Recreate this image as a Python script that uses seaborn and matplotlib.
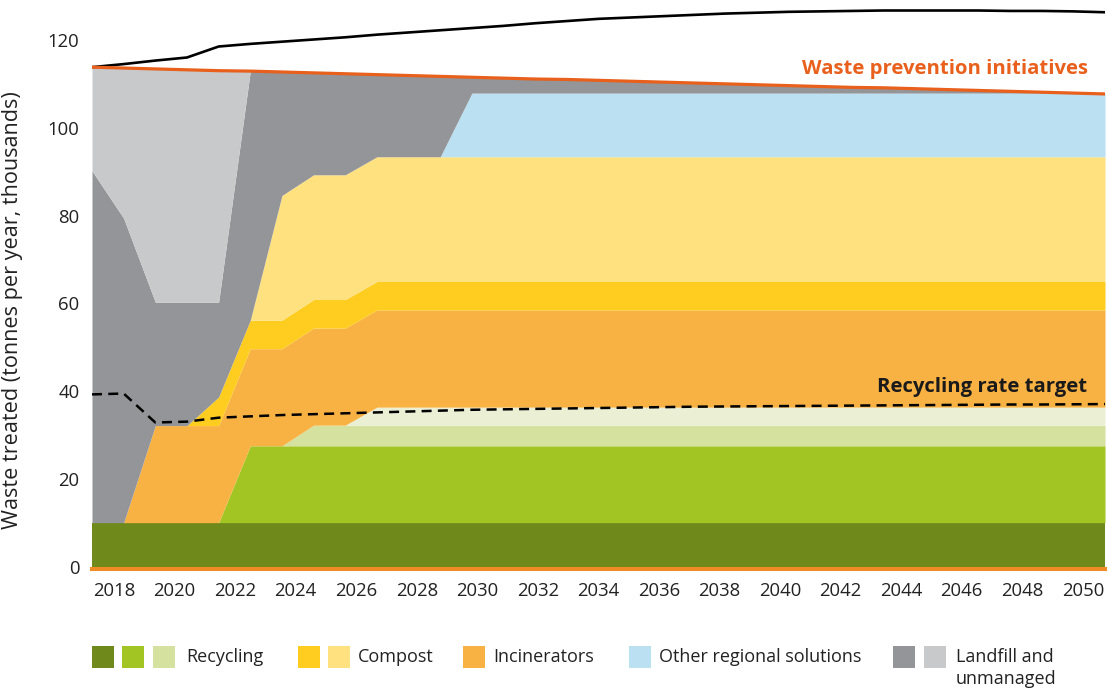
import numpy as np
import matplotlib.pyplot as plt
from matplotlib.patches import Rectangle
import seaborn as sns

# one point per year, 33 points in the scenario
step = np.arange(33)
tick_labels = [str(y) for y in range(2018, 2051, 2)]

# stacked layers, thousand tonnes per year
recycling_1 = [10.1] * 33
recycling_2 = [0, 0, 0, 0, 0] + [17.5] * 28
recycling_3 = [0, 0, 0, 0, 0, 0, 0] + [4.7] * 26
recycling_4 = [0, 0, 0, 0, 0, 0, 0, 0, 0] + [4.1] * 24
incinerators = [0, 0] + [22.1] * 31
compost_1 = [0, 0, 0, 0] + [6.5] * 29
compost_2 = [0, 0, 0, 0, 0, 0] + [28.4] * 27
other_regional = [0] * 12 + [14.5] * 21
landfill = [80.1, 69.3, 28.1, 28.1, 21.6, 56.7, 28.1, 23.2, 23.0, 18.7, 18.5, 18.3,
            3.6, 3.4, 3.2, 3.0, 2.9, 2.7, 2.5, 2.3, 2.1, 1.9, 1.7, 1.5, 1.3, 1.1,
            1.0, 0.8, 0.6, 0.4, 0.2, 0.0, 0.0]
unmanaged = [23.6, 34.2, 53.1, 52.9, 52.7] + [0] * 28

# lines
prevention = [113.8, 113.6, 113.4, 113.2, 113.0, 112.9, 112.7, 112.5, 112.3, 112.1,
              111.9, 111.7, 111.5, 111.3, 111.1, 111.0, 110.8, 110.6, 110.4, 110.2,
              110.0, 109.8, 109.6, 109.4, 109.2, 109.1, 108.9, 108.7, 108.5, 108.3,
              108.1, 107.9, 107.7]
no_prevention = [113.8, 114.5, 115.3, 116.0, 118.5, 119.1, 119.6, 120.1, 120.6, 121.2,
                 121.7, 122.2, 122.7, 123.2, 123.8, 124.3, 124.8, 125.1, 125.4, 125.7,
                 126.0, 126.2, 126.4, 126.5, 126.6, 126.7, 126.7, 126.7, 126.7, 126.6,
                 126.6, 126.5, 126.3]
recycling_target = [39.3, 39.5, 32.9, 33.1, 34.0, 34.3, 34.6, 34.8, 35.0, 35.2,
                    35.4, 35.6, 35.8, 35.9, 36.0, 36.1, 36.2, 36.3, 36.4, 36.5,
                    36.55, 36.6, 36.65, 36.7, 36.75, 36.8, 36.85, 36.9, 36.95, 37.0,
                    37.0, 37.05, 37.1]

layer_colors = ["#6F8A1B", "#A2C523", "#D5E19E", "#EBF0D5", "#F8B243",
                "#FFCD20", "#FFE17F", "#BAE0F2", "#939598", "#C8C9CB"]

sns.set_theme(style="white")
plt.rcParams["font.family"] = ["Open Sans", "DejaVu Sans"]

fig = plt.figure(figsize=(11.08, 6.89), dpi=100)
ax = fig.add_axes([92 / 1108, 120 / 689, 1013 / 1108, 568.6 / 689])

ax.stackplot(step, recycling_1, recycling_2, recycling_3, recycling_4, incinerators,
             compost_1, compost_2, other_regional, landfill, unmanaged,
             colors=layer_colors, linewidth=0)

sns.lineplot(x=step, y=no_prevention, color="black", linewidth=1.9, ax=ax)
sns.lineplot(x=step, y=prevention, color="#E8601C", linewidth=2.3, ax=ax)
sns.lineplot(x=step, y=recycling_target, color="black", linewidth=1.8,
             linestyle=(0, (4, 2.5)), ax=ax)

ax.text(31.45, 113.3, "Waste prevention initiatives", color="#E8601C",
        fontsize=14.6, fontweight="bold", ha="right", va="center")
ax.text(31.45, 40.9, "Recycling rate target", color="#1a1a1a",
        fontsize=14.6, fontweight="bold", ha="right", va="center")

ax.set_xlim(0, 32)
ax.set_ylim(-0.45, 129)
tick_pos = np.linspace(0.695, 31.30, len(tick_labels))
ax.set_xticks(tick_pos)
ax.set_xticklabels(tick_labels)
ax.set_yticks(range(0, 121, 20))
ax.tick_params(axis="both", length=0, labelsize=13.3, colors="#222222")
ax.tick_params(axis="y", pad=9)
ax.tick_params(axis="x", pad=9)

for side in ["top", "right", "left"]:
    ax.spines[side].set_visible(False)
ax.spines["bottom"].set_color("#EE8B25")
ax.spines["bottom"].set_linewidth(2.9)

ax.set_ylabel("Waste treated (tonnes per year, thousands)", fontsize=15.6, color="#222222")
ax.yaxis.set_label_coords(-0.0685, 0.455)

# legend along the bottom
W, H = 1108, 689
legend_groups = [
    ([92, 122, 153], ["#6F8A1B", "#A2C523", "#D5E19E"], 186, "Recycling"),
    ([298, 328], ["#FFCD20", "#FFE17F"], 358, "Compost"),
    ([463], ["#F8B243"], 493, "Incinerators"),
    ([629], ["#BAE0F2"], 659, "Other regional solutions"),
    ([893, 924], ["#939598", "#C8C9CB"], 956, "Landfill and\nunmanaged"),
]
for xs, cols, tx, label in legend_groups:
    for x0, c in zip(xs, cols):
        fig.patches.append(Rectangle((x0 / W, (H - 668) / H), 22 / W, 22 / H,
                                     transform=fig.transFigure, color=c, linewidth=0))
    fig.text(tx / W, (H - 648) / H, label, fontsize=13, color="#222222",
             ha="left", va="top", linespacing=1.25)

fig.savefig("out.png", dpi=100)
